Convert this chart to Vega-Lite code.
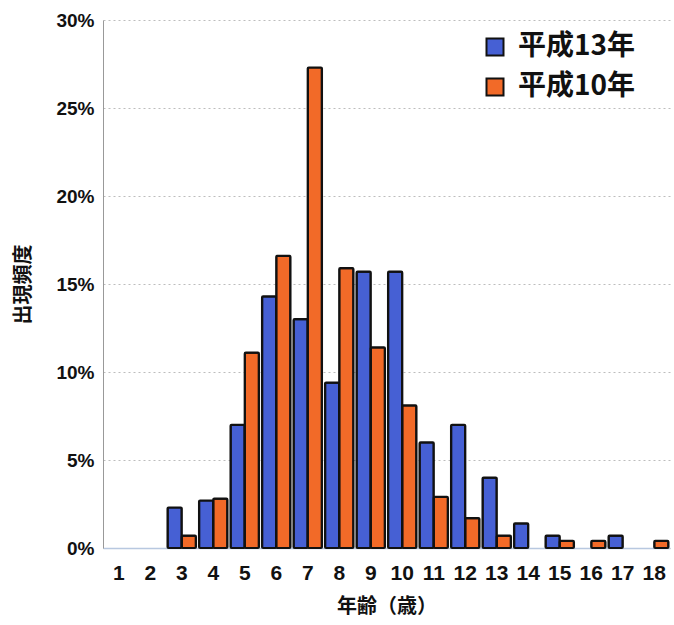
{
  "$schema": "https://vega.github.io/schema/vega-lite/v6.json",
  "width": 567,
  "height": 528,
  "autosize": {"type": "none"},
  "padding": {"left": 103, "top": 20, "right": 4, "bottom": 77},
  "background": "white",
  "data": {
    "values": [
      {"age": 3, "series": "平成13年", "value": 0.023},
      {"age": 4, "series": "平成13年", "value": 0.027},
      {"age": 5, "series": "平成13年", "value": 0.070},
      {"age": 6, "series": "平成13年", "value": 0.143},
      {"age": 7, "series": "平成13年", "value": 0.130},
      {"age": 8, "series": "平成13年", "value": 0.094},
      {"age": 9, "series": "平成13年", "value": 0.157},
      {"age": 10, "series": "平成13年", "value": 0.157},
      {"age": 11, "series": "平成13年", "value": 0.060},
      {"age": 12, "series": "平成13年", "value": 0.070},
      {"age": 13, "series": "平成13年", "value": 0.040},
      {"age": 14, "series": "平成13年", "value": 0.014},
      {"age": 15, "series": "平成13年", "value": 0.007},
      {"age": 17, "series": "平成13年", "value": 0.007},
      {"age": 3, "series": "平成10年", "value": 0.007},
      {"age": 4, "series": "平成10年", "value": 0.028},
      {"age": 5, "series": "平成10年", "value": 0.111},
      {"age": 6, "series": "平成10年", "value": 0.166},
      {"age": 7, "series": "平成10年", "value": 0.273},
      {"age": 8, "series": "平成10年", "value": 0.159},
      {"age": 9, "series": "平成10年", "value": 0.114},
      {"age": 10, "series": "平成10年", "value": 0.081},
      {"age": 11, "series": "平成10年", "value": 0.029},
      {"age": 12, "series": "平成10年", "value": 0.017},
      {"age": 13, "series": "平成10年", "value": 0.007},
      {"age": 15, "series": "平成10年", "value": 0.004},
      {"age": 16, "series": "平成10年", "value": 0.004},
      {"age": 18, "series": "平成10年", "value": 0.004}
    ]
  },
  "mark": {"type": "bar", "stroke": "#111111", "strokeWidth": 2.2, "cornerRadius": 1},
  "encoding": {
    "x": {
      "field": "age",
      "type": "ordinal",
      "scale": {"domain": [1,2,3,4,5,6,7,8,9,10,11,12,13,14,15,16,17,18], "paddingInner": 0.1, "paddingOuter": 0.05},
      "axis": {
        "title": "年齢（歳）",
        "titleFont": "Noto Sans CJK JP",
        "titleFontWeight": "bold",
        "titleFontSize": 20,
        "titleColor": "#111111",
        "titlePadding": 13,
        "labelAngle": 0,
        "labelFont": "Liberation Sans",
        "labelFontWeight": "bold",
        "labelFontSize": 21,
        "labelColor": "#111111",
        "labelPadding": 14,
        "ticks": false,
        "domain": true,
        "domainColor": "#b8c8e0",
        "domainWidth": 1.5
      }
    },
    "xOffset": {
      "field": "series",
      "type": "nominal",
      "scale": {"domain": ["平成13年", "平成10年"], "paddingInner": 0, "paddingOuter": 0}
    },
    "y": {
      "field": "value",
      "type": "quantitative",
      "scale": {"domain": [0, 0.3], "nice": false},
      "axis": {
        "title": "出現頻度",
        "titleFont": "Noto Sans CJK JP",
        "titleFontWeight": "bold",
        "titleFontSize": 20,
        "titleColor": "#111111",
        "titlePadding": 22,
        "format": ".0%",
        "values": [0, 0.05, 0.1, 0.15, 0.2, 0.25, 0.3],
        "labelFont": "Liberation Sans",
        "labelFontWeight": "bold",
        "labelFontSize": 19,
        "labelColor": "#111111",
        "labelPadding": 9,
        "ticks": false,
        "domain": true,
        "domainColor": "#999999",
        "grid": true,
        "gridColor": "#bdbdbd",
        "gridDash": [2, 3],
        "gridWidth": 1
      }
    },
    "color": {
      "field": "series",
      "type": "nominal",
      "scale": {"domain": ["平成13年", "平成10年"], "range": ["#4660d4", "#f26a28"]},
      "legend": {
        "title": null,
        "orient": "none",
        "legendX": 378,
        "legendY": 13,
        "symbolType": "square",
        "symbolSize": 289,
        "symbolStrokeColor": "#111111",
        "symbolStrokeWidth": 2,
        "labelFont": "Noto Sans CJK JP",
        "labelFontWeight": "bold",
        "labelFontSize": 28,
        "labelColor": "#111111",
        "labelOffset": 9,
        "rowPadding": 12
      }
    }
  },
  "config": {"view": {"stroke": null}}
}
